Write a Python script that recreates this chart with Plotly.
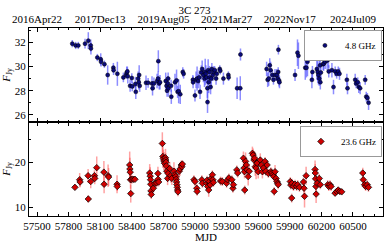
import plotly.graph_objects as go
from plotly.subplots import make_subplots

# ---- 4.8 GHz ----
mjd_48 = [57835, 57867, 57892, 57956, 57987, 58010, 58012, 58073, 58105, 58108, 58140, 58171, 58225, 58227,
          58263, 58320, 58345, 58352, 58358, 58362, 58384, 58400, 58405, 58434, 58438, 58460, 58466, 58470,
          58475, 58535, 58555, 58592, 58597, 58610, 58640, 58650, 58652, 58660, 58668, 58722, 58730, 58735,
          58742, 58745, 58748, 58773, 58775, 58810, 58825, 58835, 58845, 58860, 58884, 58892, 58980, 58982,
          59000, 59010, 59020, 59030, 59040, 59048, 59060, 59068, 59080, 59090, 59097, 59103, 59110, 59118,
          59119, 59125, 59130, 59138, 59140, 59148, 59155, 59160, 59170, 59180, 59188, 59200, 59207, 59235,
          59240, 59270, 59317, 59319, 59400, 59430, 59432, 59680, 59690, 59700, 59710, 59718, 59735, 59745,
          59760, 59777, 59785, 59790, 59792, 59798, 59802, 59950, 59973, 59982, 60047, 60058, 60068, 60110,
          60115, 60157, 60165, 60172, 60180, 60182, 60188, 60190, 60195, 60217, 60222, 60236, 60255, 60267,
          60270, 60300, 60315, 60331, 60345, 60360, 60372, 60442, 60448, 60521, 60530, 60545, 60555, 60568,
          60616, 60626, 60637, 60648]
flux_48 = [31.9, 31.75, 31.75, 31.9, 32.15, 31.75, 31.5, 30.75, 30.6, 30.4, 30.2, 29.3, 29.9, 29.7,
           29.4, 29.1, 29.3, 29.5, 29.6, 29.2, 28.4, 29.05, 28.35, 28.55, 27.9, 29.0, 28.7, 29.3,
           28.4, 28.65, 28.65, 28.6, 28.2, 28.6, 28.8, 29.0, 30.45, 28.6, 28.7, 28.8, 28.4, 28.0,
           28.6, 29.0, 28.2, 28.4, 27.5, 28.7, 28.85, 27.9, 27.95, 27.7, 29.55, 29.4, 28.9, 28.7,
           27.6, 28.9, 29.0, 28.8, 29.1, 27.9, 29.5, 29.8, 29.3, 29.0, 29.55, 29.4, 29.1, 28.2,
           27.05, 29.7, 28.7, 29.55, 29.1, 28.3, 29.0, 29.8, 29.3, 29.55, 29.7, 29.0, 29.4, 29.8,
           29.65, 29.0, 29.3, 29.1, 28.2, 28.2, 31.0, 29.8, 28.9, 29.0, 30.1, 29.7, 29.3, 28.9,
           29.3, 29.3, 29.0, 29.55, 31.4, 28.85, 28.7, 29.3, 31.15, 30.9, 29.9, 29.9, 30.4, 28.9,
           29.55, 29.8, 29.55, 29.3, 29.0, 31.0, 30.1, 28.7, 29.5, 30.2, 30.25, 30.4, 30.5, 30.6,
           29.6, 29.7, 28.3, 29.6, 29.4, 29.6, 29.4, 28.9, 28.2, 28.9, 28.6, 28.7, 28.3, 28.2,
           28.9, 27.5, 27.4, 27.0]
err_48 = [0.3, 0.3, 0.3, 0.4, 0.7, 0.5, 0.5, 0.3, 0.5, 0.4, 0.3, 0.8, 0.4, 0.4,
          1.0, 0.4, 0.3, 0.5, 0.4, 0.6, 0.5, 0.4, 0.4, 0.6, 0.6, 0.6, 0.6, 0.8,
          0.5, 0.6, 0.4, 0.6, 0.6, 0.5, 0.6, 0.6, 0.9, 0.5, 0.6, 0.7, 0.6, 0.5,
          0.6, 0.5, 0.7, 0.5, 0.6, 0.7, 0.9, 0.5, 1.0, 0.8, 0.4, 0.4, 0.4, 0.5,
          0.5, 0.7, 1.0, 0.6, 0.6, 0.6, 0.6, 0.7, 0.6, 0.7, 1.1, 0.7, 0.5, 0.8,
          0.9, 0.9, 0.9, 0.5, 0.5, 0.6, 0.7, 0.5, 0.5, 0.5, 0.3, 0.5, 0.4, 0.3,
          0.3, 0.5, 0.3, 0.3, 0.9, 1.0, 0.5, 0.6, 0.6, 0.6, 0.6, 0.7, 0.4, 0.4,
          0.5, 0.5, 0.4, 0.4, 0.4, 0.5, 0.5, 0.5, 1.1, 1.1, 1.0, 0.8, 1.2, 0.7,
          0.5, 0.9, 0.9, 0.8, 0.6, 0.9, 0.5, 0.6, 0.7, 0.5, 0.6, 0.6, 0.8, 0.7,
          0.5, 0.6, 0.6, 0.4, 0.4, 0.4, 0.5, 0.5, 0.5, 0.5, 0.4, 0.4, 0.5, 0.5,
          0.4, 0.4, 0.4, 0.6]

# ---- 23.6 GHz ----
mjd_236 = [57860, 57905, 57909, 57985, 57987, 58010, 58045, 58048, 58067, 58135, 58137, 58175, 58180,
           58260, 58262, 58380, 58382, 58385, 58388, 58390, 58400, 58415, 58430, 58570, 58575, 58578,
           58580, 58582, 58585, 58605, 58620, 58635, 58648, 58650, 58655, 58690, 58695, 58700, 58705,
           58710, 58720, 58722, 58725, 58728, 58732, 58740, 58745, 58760, 58770, 58780, 58800, 58810,
           58818, 58822, 58825, 58828, 58832, 58835, 58838, 58850, 58858, 58870, 58875, 58880, 58990,
           59000, 59017, 59020, 59065, 59070, 59110, 59115, 59120, 59130, 59138, 59145, 59152, 59165,
           59170, 59175, 59243, 59260, 59300, 59310, 59322, 59350, 59360, 59365, 59397, 59405, 59460,
           59465, 59470, 59472, 59480, 59488, 59495, 59505, 59515, 59545, 59552, 59560, 59565, 59572,
           59580, 59590, 59600, 59620, 59630, 59640, 59650, 59665, 59672, 59685, 59697, 59720, 59730,
           59740, 59748, 59752, 59760, 59770, 59778, 59785, 59790, 59905, 59910, 59918, 59922, 59935,
           59950, 59965, 59975, 59992, 60030, 60035, 60040, 60055, 60140, 60142, 60145, 60148, 60150,
           60160, 60180, 60190, 60260, 60270, 60282, 60292, 60330, 60345, 60360, 60375, 60393, 60593,
           60598, 60610, 60620, 60635, 60647]
flux_236 = [14.4, 16.1, 15.6, 17.0, 11.8, 15.7, 17.0, 16.4, 18.8, 17.8, 15.1, 17.0, 16.7,
            15.1, 14.6, 19.4, 18.5, 17.8, 16.1, 13.0, 16.2, 16.2, 16.2, 17.6, 16.9, 16.1,
            15.1, 13.6, 12.8, 14.2, 15.3, 15.4, 17.5, 16.2, 15.6, 24.2, 21.3, 20.8, 20.3,
            19.8, 21.0, 20.5, 20.0, 19.2, 18.0, 16.4, 17.5, 18.6, 17.0, 16.4, 18.0, 17.2,
            16.8, 16.2, 15.6, 15.0, 14.4, 13.8, 13.4, 18.0, 18.5, 19.4, 19.0, 19.6, 16.1,
            15.7, 14.2, 13.5, 16.1, 15.3, 15.3, 16.0, 14.6, 13.8, 15.7, 14.95, 16.4, 17.2,
            16.1, 15.5, 15.8, 15.7, 15.3, 16.1, 16.5, 16.1, 14.2, 15.0, 18.3, 17.6, 20.9,
            18.7, 17.9, 13.8, 20.2, 19.4, 18.3, 16.8, 18.0, 22.0, 21.6, 20.5, 20.9, 19.0,
            18.7, 19.8, 17.9, 20.5, 19.4, 17.9, 18.7, 20.2, 18.0, 19.4, 17.5, 17.9, 17.6,
            17.2, 16.8, 13.5, 17.9, 16.4, 15.7, 15.3, 15.0, 15.7, 14.9, 12.0, 15.3, 14.6,
            15.1, 14.6, 15.0, 14.4, 15.6, 14.2, 12.4, 17.0, 18.4, 17.6, 16.3, 14.6, 12.9,
            15.3, 16.4, 15.0, 15.0, 14.6, 15.0, 14.6, 13.1, 13.5, 13.8, 13.5, 13.4, 17.6,
            16.1, 15.0, 14.6, 15.0, 14.4]
err_236 = [0.6, 1.5, 1.2, 1.5, 0.8, 1.5, 1.2, 1.3, 2.5, 2.5, 2.0, 2.5, 2.0,
           2.0, 1.0, 3.0, 2.5, 2.0, 2.0, 2.0, 1.0, 0.5, 0.5, 2.0, 2.0, 1.5,
           1.5, 1.0, 1.0, 1.0, 1.0, 1.0, 1.5, 1.0, 1.0, 2.5, 2.5, 2.0, 2.0,
           1.5, 2.0, 1.5, 1.5, 1.5, 1.5, 1.5, 1.5, 1.5, 1.5, 1.5, 2.0, 1.5,
           1.0, 1.0, 1.0, 1.0, 1.0, 1.0, 1.0, 1.5, 1.5, 1.0, 1.0, 0.8, 1.0,
           1.0, 1.0, 1.0, 1.0, 1.0, 1.0, 1.0, 1.0, 1.5, 1.0, 1.0, 1.0, 1.0,
           1.0, 1.0, 1.0, 1.0, 1.0, 1.0, 1.0, 1.0, 1.0, 1.0, 1.0, 1.0, 1.5,
           1.5, 1.5, 1.0, 2.0, 1.5, 1.5, 2.0, 1.5, 1.5, 1.5, 2.0, 1.5, 2.0,
           2.5, 1.5, 1.5, 1.5, 1.5, 1.5, 1.5, 1.0, 1.0, 1.0, 1.0, 1.0, 1.0,
           1.0, 1.0, 1.0, 1.5, 1.0, 1.0, 1.0, 1.0, 1.0, 1.0, 1.0, 1.0, 1.0,
           1.0, 1.0, 1.0, 1.0, 1.0, 1.5, 2.5, 2.0, 2.0, 2.0, 2.0, 2.0, 2.0,
           1.0, 1.0, 1.0, 1.0, 1.0, 1.0, 1.0, 0.5, 0.5, 0.5, 0.5, 0.5, 1.2,
           1.0, 1.0, 1.0, 1.0, 1.0]

top_tickvals = [57500, 58100, 58700, 59300, 59900, 60500]
top_ticktext = ["2016Apr22", "2017Dec13", "2019Aug05", "2021Mar27", "2022Nov17", "2024Jul09"]

FONT = "Liberation Serif"
xr = [57424, 60785]

fig = make_subplots(rows=2, cols=1, vertical_spacing=0)

fig.add_trace(go.Scatter(
    x=mjd_48, y=flux_48, mode="markers", name="4.8 GHz",
    error_y=dict(type="data", array=err_48, color="rgba(80,80,255,0.65)", thickness=1.5, width=0),
    marker=dict(color="#0a0a7a", size=4, line=dict(color="black", width=0.5)),
    legend="legend"), row=1, col=1)

fig.add_trace(go.Scatter(
    x=mjd_236, y=flux_236, mode="markers", name="23.6 GHz",
    error_y=dict(type="data", array=err_236, color="rgba(255,70,70,0.5)", thickness=1.5, width=0),
    marker=dict(color="#d00000", size=5, symbol="diamond", line=dict(color="black", width=0.7)),
    legend="legend2"), row=2, col=1)

axis_common = dict(showline=True, linecolor="black", linewidth=1, ticks="inside",
                   tickcolor="black", showgrid=False, zeroline=False, automargin=False,
                   tickfont=dict(family=FONT, size=11, color="black"))

fig.update_xaxes(range=xr, side="top", tickmode="array", tickvals=top_tickvals, ticktext=top_ticktext,
                 mirror="allticks", ticklen=4,
                 minor=dict(ticks="inside", tick0=57500, dtick=100, ticklen=2, tickcolor="black"),
                 row=1, col=1, **axis_common)
fig.update_xaxes(range=xr, tick0=57500, dtick=300, tickformat="d", mirror="allticks", ticklen=4,
                 minor=dict(ticks="inside", tick0=57500, dtick=100, ticklen=2, tickcolor="black"),
                 title=dict(text="MJD", font=dict(family=FONT, size=11, color="black"), standoff=0),
                 row=2, col=1, **axis_common)
fig.update_yaxes(range=[25.4, 33.2], tickvals=[26, 28, 30, 32], mirror="allticks", ticklen=4,
                 minor=dict(ticks="inside", dtick=1, ticklen=2, tickcolor="black"),
                 title=dict(text="<i>F</i><sub>Jy</sub>", font=dict(family=FONT, size=11, color="black"), standoff=2),
                 row=1, col=1, **axis_common)
fig.update_yaxes(range=[8, 29], tickvals=[10, 20], mirror="allticks", ticklen=4,
                 minor=dict(ticks="inside", tick0=0, dtick=5, ticklen=2, tickcolor="black"),
                 title=dict(text="<i>F</i><sub>Jy</sub>", font=dict(family=FONT, size=11, color="black"), standoff=2),
                 row=2, col=1, **axis_common)

fig.update_layout(
    width=389, height=243,
    margin=dict(l=29, r=6, t=28, b=27),
    paper_bgcolor="white", plot_bgcolor="white",
    font=dict(family=FONT, size=11, color="black"),
    title=dict(text="3C 273", x=0.5, xanchor="center", y=0.975, yanchor="top", yref="container",
               font=dict(family=FONT, size=11, color="black")),
    legend=dict(x=0.997, y=0.99, xanchor="right", yanchor="top", xref="paper", yref="paper",
                bordercolor="#999", borderwidth=1, bgcolor="white",
                font=dict(family=FONT, size=9, color="black")),
    legend2=dict(x=0.997, y=0.479, xanchor="right", yanchor="top", xref="paper", yref="paper",
                 bordercolor="#999", borderwidth=1, bgcolor="white",
                 font=dict(family=FONT, size=9, color="black")),
    showlegend=True,
)

fig.write_html("out.html", config={"displayModeBar": False},
               post_script="document.body.style.margin='0';document.body.style.overflow='hidden';")
